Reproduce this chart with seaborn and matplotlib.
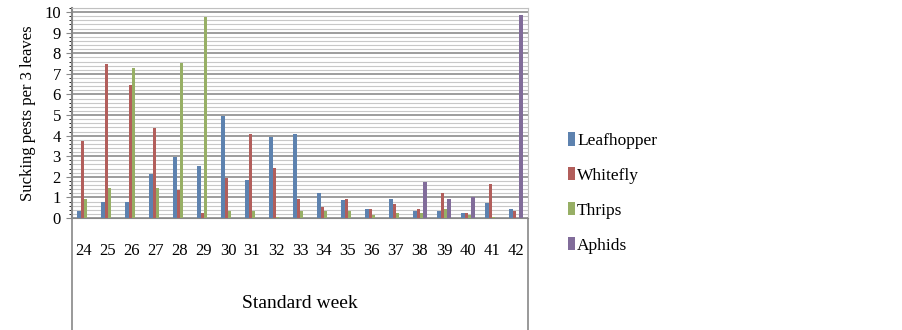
import pandas as pd
import numpy as np
import seaborn as sns
import matplotlib.pyplot as plt
from matplotlib.ticker import MultipleLocator

weeks = ['24', '25', '26', '27', '28', '29', '30', '31', '32', '33',
         '34', '35', '36', '37', '38', '39', '40', '41', '42']
leafhopper = [0.32, 0.78, 0.76, 2.16, 2.95, 2.53, 4.97, 1.83, 3.94, 4.06,
              1.23, 0.86, 0.44, 0.94, 0.34, 0.34, 0.26, 0.75, 0.44]
whitefly = [3.73, 7.50, 6.46, 4.37, 1.36, 0.24, 1.93, 4.06, 2.45, 0.94,
            0.52, 0.94, 0.44, 0.67, 0.44, 1.23, 0.26, 1.66, 0.34]
thrips = [0.90, 1.48, 7.27, 1.46, 7.55, 9.76, 0.34, 0.34, 0.05, 0.34,
          0.34, 0.34, 0.15, 0.26, 0.26, 0.42, 0.15, 0.03, 0.0]
aphids = [0.0, 0.0, 0.0, 0.0, 0.0, 0.0, 0.0, 0.0, 0.0, 0.0,
          0.0, 0.0, 0.0, 0.0, 1.75, 0.94, 1.04, 0.0, 9.84]
pests = ['Leafhopper', 'Whitefly', 'Thrips', 'Aphids']
colors = ['#4F81BD', '#C0504D', '#9BBB59', '#8064A2']

# long format for seaborn
df = pd.DataFrame({'week': weeks * 4,
                   'pest': np.repeat(pests, len(weeks)),
                   'value': leafhopper + whitefly + thrips + aphids})

plt.rcParams['font.family'] = ['Liberation Serif', 'DejaVu Serif']

fig = plt.figure(figsize=(9.03, 3.30), dpi=100)
ax = fig.add_axes([72 / 903, 1 - 218 / 330, (528 - 72) / 903, 210 / 330])

sns.barplot(data=df, x='week', y='value', hue='pest', palette=colors,
            width=0.58, ax=ax, zorder=3, linewidth=0)

ax.set_ylim(0, 10.2)
ax.set_xlim(-0.5, len(weeks) - 0.5)
ax.yaxis.set_major_locator(MultipleLocator(1))
ax.yaxis.set_minor_locator(MultipleLocator(0.2))
ax.grid(True, axis='y', which='major', color='#8c8c8c', linewidth=1.2, zorder=0)
ax.grid(True, axis='y', which='minor', color='#c8c8c8', linewidth=0.8, zorder=0)
ax.set_axisbelow(True)

for s in ['top', 'right']:
    ax.spines[s].set_color('#c0c0c0')
ax.spines['left'].set_color('#888888')
ax.spines['bottom'].set_color('#888888')
ax.spines['left'].set_linewidth(1.5)

ax.tick_params(axis='y', labelsize=12, length=4, color='#888888', pad=4)
ax.tick_params(axis='x', labelsize=12, length=0, pad=18)
ax.set_ylabel('Sucking pests per 3 leaves', fontsize=12, labelpad=6)
ax.set_xlabel('Standard week', fontsize=14, labelpad=26)

# category table border below the axis
ax.plot([0, 0], [0, -112 / 210], transform=ax.transAxes, color='#888888',
        linewidth=1.2, clip_on=False)
ax.plot([1, 1], [0, -112 / 210], transform=ax.transAxes, color='#888888',
        linewidth=1.2, clip_on=False)

handles, labels = ax.get_legend_handles_labels()
ax.legend(handles, labels, loc='center left', bbox_to_anchor=(552 / 903, 1 - 193 / 330),
          bbox_transform=fig.transFigure, frameon=False, fontsize=12.5,
          handlelength=0.4, handleheight=0.8, handletextpad=0.15, labelspacing=1.05)

fig.savefig('out.png', dpi=100)
